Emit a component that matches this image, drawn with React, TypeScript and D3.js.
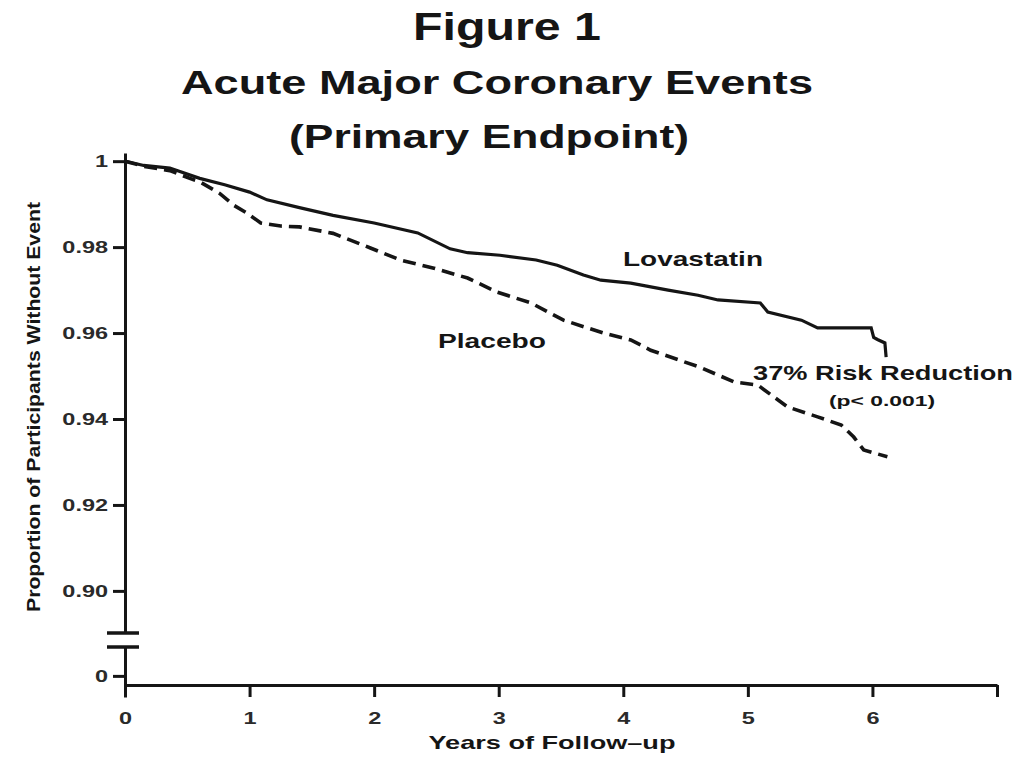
import React, { useEffect, useRef } from "react";
import * as d3 from "d3";

const W = 1024;
const H = 768;
const FONT = "'Liberation Sans', Arial, Helvetica, sans-serif";
const INK = "#151515";
const SX = 1.38; // the source picture is stretched sideways

// Kaplan-Meier curves
const lovaYears = [0, 0.15, 0.36, 0.6, 0.8, 1.0, 1.14, 1.4, 1.67, 2.0, 2.35, 2.61, 2.75, 3.01, 3.3, 3.47, 3.68, 3.82, 4.06, 4.36, 4.6, 4.76, 5.1, 5.16, 5.43, 5.56, 5.99, 6.01, 6.04, 6.1, 6.11];
const lovaValues = [1, 0.999, 0.9984, 0.996, 0.9945, 0.9928, 0.991, 0.9892, 0.9874, 0.9856, 0.9833, 0.9796, 0.9787, 0.9781, 0.977, 0.9758, 0.9735, 0.9723, 0.9716, 0.97, 0.9688, 0.9677, 0.967, 0.9649, 0.963, 0.9612, 0.9612, 0.959, 0.9585, 0.9577, 0.9544];

const placeboYears = [0, 0.15, 0.36, 0.52, 0.6, 0.76, 0.87, 0.98, 1.09, 1.25, 1.4, 1.67, 1.97, 2.21, 2.48, 2.75, 2.99, 3.26, 3.52, 3.84, 4.06, 4.22, 4.62, 4.89, 5.08, 5.21, 5.32, 5.56, 5.75, 5.85, 5.93, 6.12];
const placeboValues = [1, 0.9988, 0.9978, 0.996, 0.9952, 0.9925, 0.9898, 0.9879, 0.9856, 0.9849, 0.9847, 0.9832, 0.9798, 0.977, 0.9751, 0.9728, 0.9695, 0.967, 0.963, 0.96, 0.9584, 0.956, 0.952, 0.9486, 0.9479, 0.9451, 0.9428, 0.9405, 0.9386, 0.9358, 0.9328, 0.9312];

const xTicks = [0, 1, 2, 3, 4, 5, 6, 7];
const yTicks = [0.9, 0.92, 0.94, 0.96, 0.98, 1];
const yLowTicks = [0];

const titleLines = ["Figure 1", "Acute Major Coronary Events", "(Primary Endpoint)"];

export default function App() {
  const svgRef = useRef<SVGSVGElement>(null);

  useEffect(() => {
    document.body.style.margin = "0";
    const svg = d3.select(svgRef.current);
    svg.selectAll("*").remove();

    const x = d3.scaleLinear().domain([0, 7]).range([125, 997]);
    const y = d3.scaleLinear().domain([0.8902, 1.0019]).range([633, 153]);
    const yLow = d3.scaleLinear().domain([-0.0049, 0.0067]).range([697, 647]);
    const X_AXIS_Y = 685;

    // stretched text helper
    const label = (
      str: string,
      px: number,
      py: number,
      size: number,
      len: number,
      anchor = "middle",
      rotate = 0
    ) => {
      return svg
        .append("text")
        .attr("transform", `translate(${px},${py}) rotate(${rotate})`)
        .attr("text-anchor", anchor)
        .attr("font-family", FONT)
        .attr("font-weight", "bold")
        .attr("font-size", size)
        .attr("fill", INK)
        .attr("textLength", len)
        .attr("lengthAdjust", "spacingAndGlyphs")
        .text(str);
    };

    // Titles
    label(titleLines[0], 507, 40, 38, 188);
    label(titleLines[1], 497, 94, 34, 632);
    label(titleLines[2], 489, 148, 34, 400);

    const styleAxis = (g: d3.Selection<SVGGElement, unknown, null, undefined>) => {
      g.select(".domain").attr("stroke", INK).attr("stroke-width", 3);
      g.selectAll(".tick line").attr("stroke", INK).attr("stroke-width", 3);
      g.selectAll<SVGTextElement, unknown>(".tick text")
        .attr("font-family", FONT)
        .attr("font-weight", "bold")
        .attr("font-size", 17)
        .attr("fill", "#2a2a2a")
        .attr("transform", `scale(${SX},1)`)
        .attr("x", function () {
          return +d3.select(this).attr("x") / SX;
        });
    };

    // Upper y axis
    const gy = svg
      .append("g")
      .attr("transform", "translate(125,0)")
      .call(
        d3
          .axisLeft(y)
          .tickValues(yTicks)
          .tickSize(12)
          .tickSizeOuter(0)
          .tickPadding(5)
          .tickFormat((d) => ((d as number) === 1 ? "1" : d3.format(".2f")(d as number)))
      );
    styleAxis(gy);

    // Lower y axis segment (the zero below the break)
    const gyl = svg
      .append("g")
      .attr("transform", "translate(125,0)")
      .call(
        d3
          .axisLeft(yLow)
          .tickValues(yLowTicks)
          .tickSize(12)
          .tickSizeOuter(0)
          .tickPadding(5)
          .tickFormat(() => "0")
      );
    styleAxis(gyl);

    // Break marks
    [y.range()[0], yLow.range()[1]].forEach((by) => {
      svg
        .append("line")
        .attr("x1", 107)
        .attr("x2", 139)
        .attr("y1", by)
        .attr("y2", by)
        .attr("stroke", INK)
        .attr("stroke-width", 3.5);
    });

    // X axis
    const gx = svg
      .append("g")
      .attr("transform", `translate(0,${X_AXIS_Y})`)
      .call(
        d3
          .axisBottom(x)
          .tickValues(xTicks)
          .tickSize(12)
          .tickSizeOuter(0)
          .tickPadding(15)
          .tickFormat((d) => ((d as number) === 7 ? "" : String(d)))
      );
    styleAxis(gx);

    // Curves
    const line = d3
      .line<[number, number]>()
      .x((d) => x(d[0]))
      .y((d) => y(d[1]))
      .curve(d3.curveLinear);

    const lova = lovaYears.map((t, i) => [t, lovaValues[i]] as [number, number]);
    const plac = placeboYears.map((t, i) => [t, placeboValues[i]] as [number, number]);

    svg
      .append("path")
      .attr("d", line(plac))
      .attr("fill", "none")
      .attr("stroke", INK)
      .attr("stroke-width", 3.6)
      .attr("stroke-dasharray", "13,7");

    svg
      .append("path")
      .attr("d", line(lova))
      .attr("fill", "none")
      .attr("stroke", INK)
      .attr("stroke-width", 3.2)
      .attr("stroke-linejoin", "miter");

    // Annotations
    label("Lovastatin", 623, 266, 21, 140, "start");
    label("Placebo", 438, 348, 21, 108, "start");
    label("37% Risk Reduction", 753, 380, 21, 260, "start");
    label("(p< 0.001)", 829, 406, 14, 106, "start");

    // Axis titles
    label("Years of Follow\u2013up", 552, 749, 19, 247);
    label("Proportion of Participants Without Event", 40, 407, 18, 410, "middle", -90);
  }, []);

  return <svg ref={svgRef} width={W} height={H} style={{ display: "block", background: "#fff" }} />;
}
